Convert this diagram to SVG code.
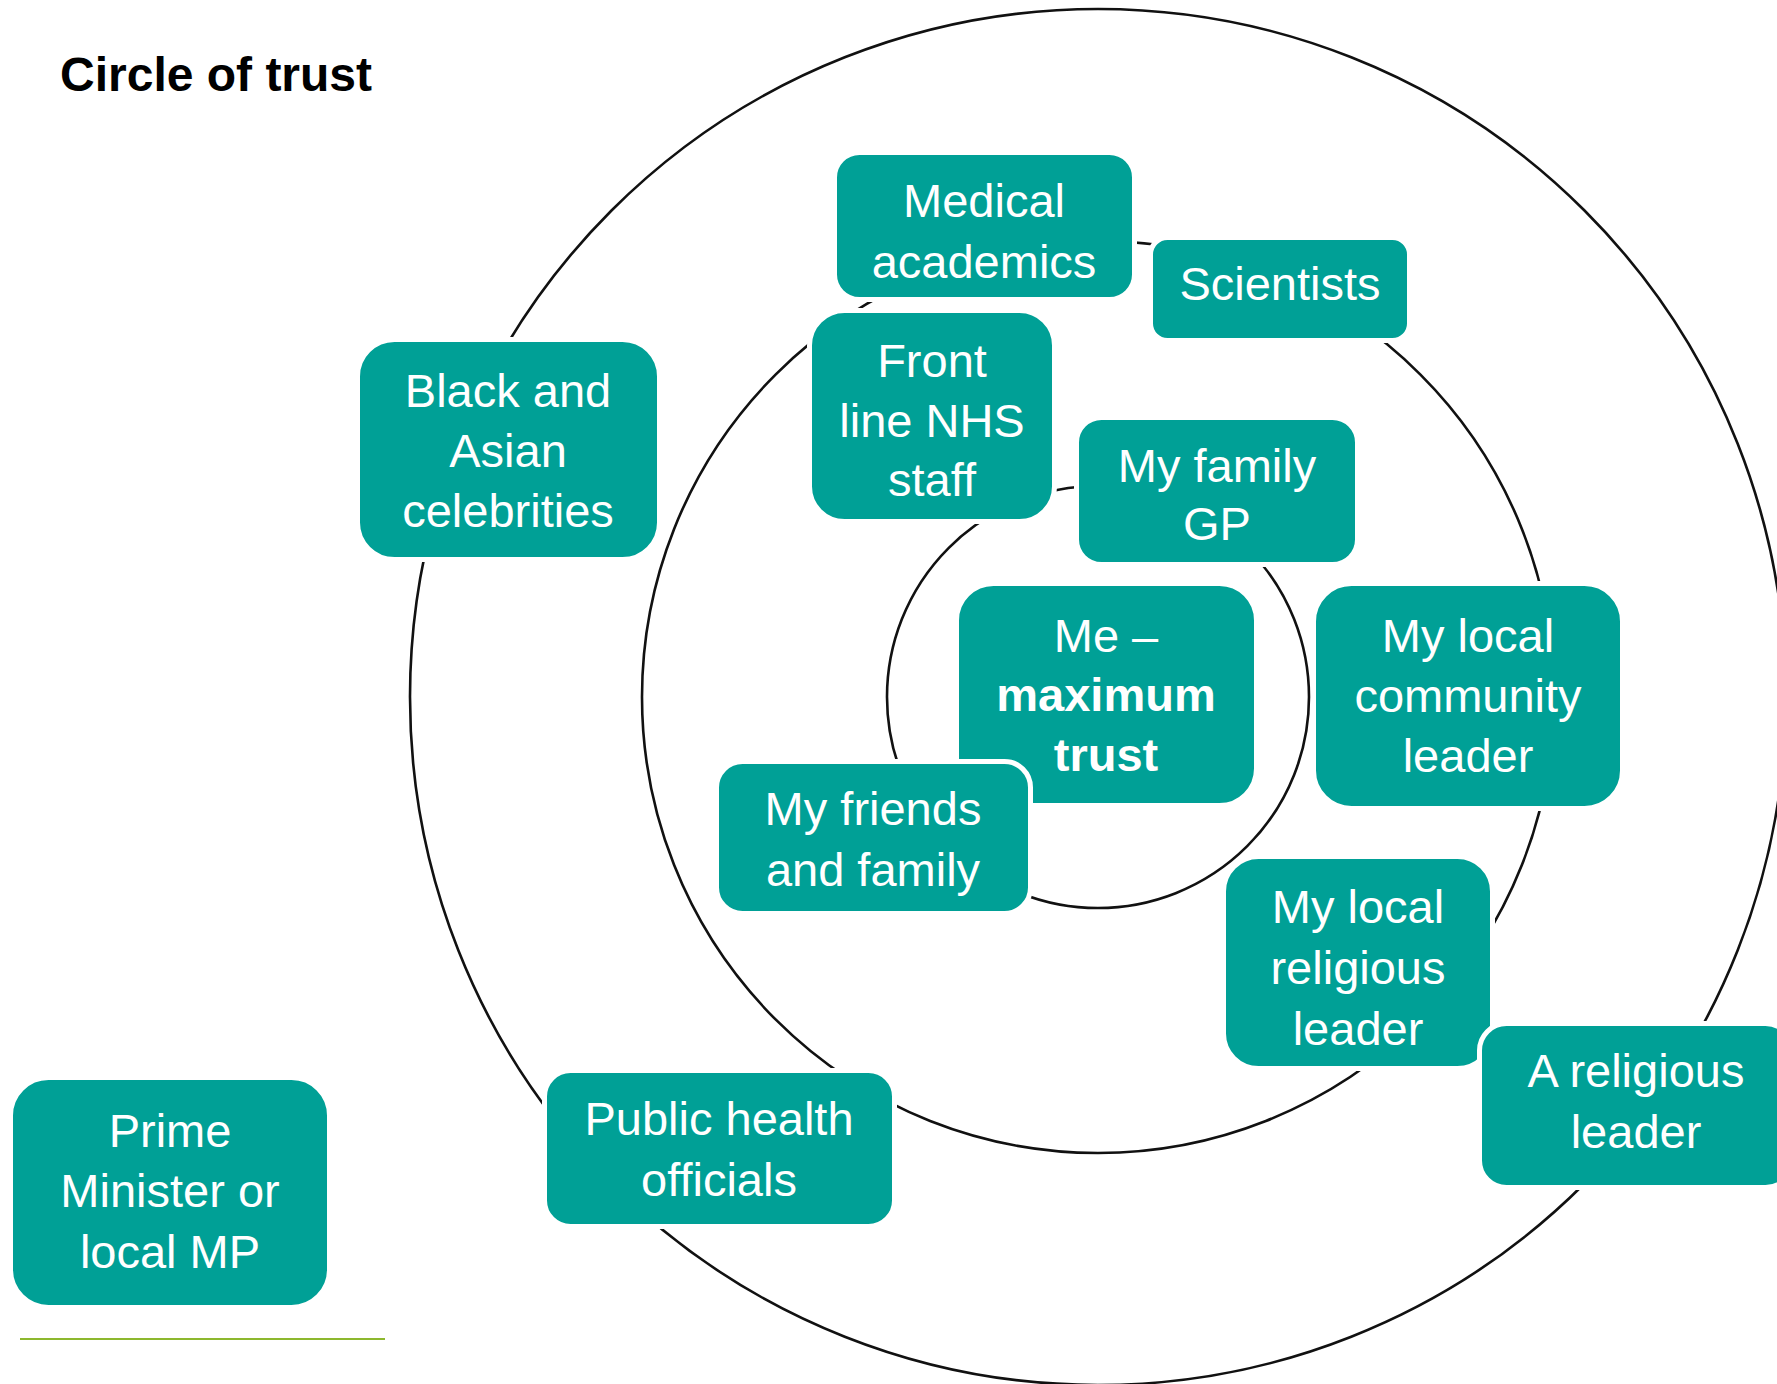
<svg xmlns="http://www.w3.org/2000/svg" width="1777" height="1384" viewBox="0 0 1777 1384">
<style>
.ring{fill:none;stroke:#111;stroke-width:2.6}
.box{fill:#00A096;stroke:#fff;stroke-width:5}
.t{font-family:"Liberation Sans",Arial,sans-serif;font-size:47px;fill:#fff;text-anchor:middle}
.b{font-weight:bold}
.title{font-family:"Liberation Sans",Arial,sans-serif;font-size:48px;font-weight:bold;fill:#000}
</style>
<rect width="1777" height="1384" fill="#fff"/>
<text class="title" x="60" y="91">Circle of trust</text>
<g id="connectors">
<circle class="ring" cx="1098" cy="697" r="688"/>
<circle class="ring" cx="1098" cy="697" r="456"/>
<circle class="ring" cx="1098" cy="697" r="211"/>
</g>
<g id="medical">
<rect class="box" x="834.5" y="152.5" width="300" height="147" rx="25"/>
<text class="t" x="984" y="217">Medical</text>
<text class="t" x="984" y="278">academics</text>
</g>
<g id="scientists">
<rect class="box" x="1150.5" y="237.5" width="259" height="103" rx="17"/>
<text class="t" x="1280" y="300">Scientists</text>
</g>
<g id="frontline">
<rect class="box" x="809.5" y="310.5" width="245" height="211" rx="35"/>
<text class="t" x="932" y="377">Front</text>
<text class="t" x="932" y="437">line NHS</text>
<text class="t" x="932" y="496">staff</text>
</g>
<g id="celebrities">
<rect class="box" x="357.5" y="339.5" width="302" height="220" rx="37"/>
<text class="t" x="508" y="407">Black and</text>
<text class="t" x="508" y="467">Asian</text>
<text class="t" x="508" y="527">celebrities</text>
</g>
<g id="gp">
<rect class="box" x="1076.5" y="417.5" width="281" height="147" rx="25"/>
<text class="t" x="1217" y="482">My family</text>
<text class="t" x="1217" y="540">GP</text>
</g>
<g id="me">
<rect class="box" x="956.5" y="583.5" width="300" height="222" rx="37"/>
<text class="t" x="1106" y="652">Me –</text>
<text class="t b" x="1106" y="711">maximum</text>
<text class="t b" x="1106" y="771">trust</text>
</g>
<g id="community">
<rect class="box" x="1313.5" y="583.5" width="309" height="225" rx="38"/>
<text class="t" x="1468" y="652">My local</text>
<text class="t" x="1468" y="712">community</text>
<text class="t" x="1468" y="772">leader</text>
</g>
<g id="friends">
<rect class="box" x="716.5" y="761.5" width="314" height="152" rx="26"/>
<text class="t" x="873" y="825">My friends</text>
<text class="t" x="873" y="886">and family</text>
</g>
<g id="localreligious">
<rect class="box" x="1223.5" y="856.5" width="269" height="212" rx="35"/>
<text class="t" x="1358" y="923">My local</text>
<text class="t" x="1358" y="984">religious</text>
<text class="t" x="1358" y="1045">leader</text>
</g>
<g id="religious">
<rect class="box" x="1479.5" y="1023.5" width="313" height="164" rx="27"/>
<text class="t" x="1636" y="1087">A religious</text>
<text class="t" x="1636" y="1148">leader</text>
</g>
<g id="publichealth">
<rect class="box" x="544.5" y="1070.5" width="350" height="156" rx="26"/>
<text class="t" x="719" y="1135">Public health</text>
<text class="t" x="719" y="1196">officials</text>
</g>
<g id="pm">
<rect class="box" x="10.5" y="1077.5" width="319" height="230" rx="38"/>
<text class="t" x="170" y="1147">Prime</text>
<text class="t" x="170" y="1207">Minister or</text>
<text class="t" x="170" y="1268">local MP</text>
</g>
<line x1="20" y1="1339" x2="385" y2="1339" stroke="#8DB82E" stroke-width="2"/>
</svg>
